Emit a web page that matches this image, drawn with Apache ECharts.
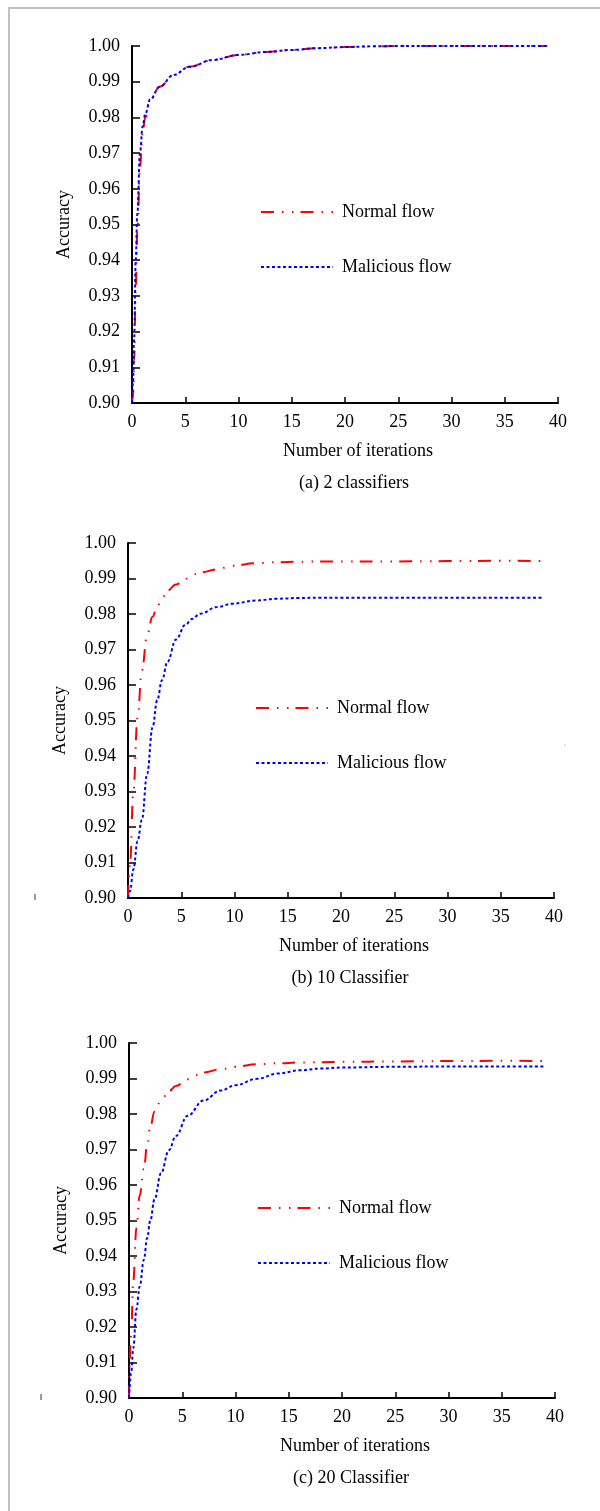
<!DOCTYPE html>
<html>
<head>
<meta charset="utf-8">
<script src="https://cdn.jsdelivr.net/npm/echarts@6.0.0/dist/echarts.min.js"></script>
<style>
  html, body { margin: 0; padding: 0; background: #fff; }
  #main { width: 600px; height: 1511px; }
</style>
</head>
<body>
<div id="main"></div>
<script>
// (a) 2 classifiers
const itersA = [0, 0.1, 0.2, 0.35, 0.5, 0.75, 1, 1.25, 1.7, 2.6, 3.9, 5.4, 7.6, 10, 12.5, 15, 17.5, 20, 22.5, 25, 28, 31, 34, 37, 39];
const normalA = [0.900, 0.902, 0.912, 0.932, 0.948, 0.966, 0.976, 0.980, 0.9848, 0.9886, 0.9919, 0.9942, 0.9961, 0.9975, 0.9983, 0.9989, 0.9994, 0.9997, 0.9999, 1.0, 1.0, 1.0, 1.0, 1.0, 1.0];
const maliciousA = [0.900, 0.906, 0.918, 0.940, 0.953, 0.970, 0.9775, 0.981, 0.985, 0.9886, 0.9919, 0.9942, 0.9961, 0.9975, 0.9983, 0.9989, 0.9994, 0.9997, 0.9999, 1.0, 1.0, 1.0, 1.0, 1.0, 1.0];

// (b) 10 Classifier
const itersB = [0, 0.2, 0.5, 0.9, 1.3, 1.8, 2.3, 2.75, 3.2, 3.7, 4.5, 5.4, 6, 6.8, 8.4, 9.8, 12, 14, 16, 18, 20, 25, 30, 35, 39];
const normalB = [0.900, 0.910, 0.930, 0.951, 0.964, 0.9742, 0.9792, 0.9822, 0.9844, 0.9866, 0.9883, 0.9899, 0.9910, 0.9917, 0.9926, 0.9936, 0.9943, 0.9946, 0.9947, 0.9948, 0.9948, 0.9948, 0.9949, 0.995, 0.9949];
const maliciousB = [0.900, 0.902, 0.908, 0.916, 0.922, 0.935, 0.948, 0.9558, 0.9614, 0.9665, 0.9728, 0.9770, 0.9786, 0.9801, 0.9820, 0.9829, 0.9838, 0.9843, 0.9845, 0.9846, 0.9846, 0.9846, 0.9846, 0.9846, 0.9846];

// (c) 20 Classifier
const itersC = [0, 0.2, 0.4, 0.7, 1.0, 1.4, 1.7, 2.0, 2.4, 3.0, 3.75, 4.4, 5.5, 7, 8.6, 10, 12, 14, 16, 18, 20, 25, 30, 35, 39];
const normalC = [0.900, 0.918, 0.933, 0.948, 0.957, 0.9645, 0.9712, 0.9765, 0.9807, 0.9838, 0.9864, 0.9879, 0.9898, 0.9917, 0.9926, 0.9933, 0.994, 0.9943, 0.9945, 0.9946, 0.9947, 0.9948, 0.9949, 0.995, 0.9949];
const maliciousC = [0.900, 0.907, 0.914, 0.925, 0.9314, 0.939, 0.945, 0.950, 0.956, 0.9633, 0.9698, 0.9738, 0.9795, 0.9838, 0.9866, 0.9881, 0.9899, 0.9914, 0.9923, 0.9928, 0.9931, 0.9933, 0.9934, 0.9934, 0.9934];

const captions = ['(a) 2 classifiers', '(b) 10 Classifier', '(c) 20 Classifier'];
const xTitle = 'Number of iterations';
const yTitle = 'Accuracy';

const panels = [
  { iters: itersA, normal: normalA, malicious: maliciousA },
  { iters: itersB, normal: normalB, malicious: maliciousB },
  { iters: itersC, normal: normalC, malicious: maliciousC }
];

const font = 'Liberation Serif';
const fs = 18;
const grids = [
  { left: 132, top: 46, width: 426, height: 357 },
  { left: 128, top: 543, width: 426, height: 355 },
  { left: 129, top: 1043, width: 426, height: 355 }
];
const legendPos = [
  { left: 260, top: 203 },
  { left: 255, top: 699 },
  { left: 257, top: 1199 }
];

function zip(xs, ys) {
  return xs.map((x, i) => [x, ys[i]]);
}

const chart = echarts.init(document.getElementById('main'), null, { renderer: 'canvas' });

const xAxes = [], yAxes = [], series = [], legends = [], graphics = [];

grids.forEach((g, i) => {
  xAxes.push({
    gridIndex: i, type: 'value', min: 0, max: 40, interval: 5,
    axisLine: { onZero: false, lineStyle: { color: '#000', width: 2 } },
    axisTick: { inside: true, length: 6, lineStyle: { color: '#000', width: 1.5 } },
    axisLabel: { margin: 10, color: '#000', fontFamily: font, fontSize: fs },
    splitLine: { show: false },
    name: xTitle, nameLocation: 'middle', nameGap: 39,
    nameTextStyle: { color: '#000', fontFamily: font, fontSize: fs, padding: [0, 0, 0, 26] }
  });
  yAxes.push({
    gridIndex: i, type: 'value', min: 0.9, max: 1.0, interval: 0.01,
    axisLine: { lineStyle: { color: '#000', width: 2 } },
    axisTick: { inside: true, length: 8, lineStyle: { color: '#000', width: 1.5 } },
    axisLabel: { margin: 12, color: '#000', fontFamily: font, fontSize: fs, formatter: v => v.toFixed(2) },
    splitLine: { show: false },
    name: yTitle, nameLocation: 'middle', nameGap: 59,
    nameTextStyle: { color: '#000', fontFamily: font, fontSize: fs }
  });
  const p = panels[i];
  series.push({
    type: 'line', name: 'Normal flow', xAxisIndex: i, yAxisIndex: i,
    data: zip(p.iters, p.normal), symbol: 'none', smooth: 0.4, smoothMonotone: 'x', z: 2,
    lineStyle: { color: '#ff0000', width: 2, type: [13, 8, 1.5, 8.5, 1.5, 7] },
    itemStyle: { color: '#ff0000' }
  });
  series.push({
    type: 'line', name: 'Malicious flow', xAxisIndex: i, yAxisIndex: i,
    data: zip(p.iters, p.malicious), symbol: 'none', smooth: 0.4, smoothMonotone: 'x', z: 3,
    lineStyle: { color: '#0000ff', width: 2, type: [3, 2.5] },
    itemStyle: { color: '#0000ff' }
  });
  legends.push({
    orient: 'vertical', left: legendPos[i].left, top: legendPos[i].top, padding: 0,
    itemWidth: 72, itemHeight: 18, itemGap: 37, selectedMode: false,
    itemStyle: { opacity: 0 },
    data: ['Normal flow', 'Malicious flow'],
    textStyle: { color: '#000', fontFamily: font, fontSize: fs, padding: [0, 0, 0, 4] }
  });
  graphics.push({
    type: 'text', x: g.left + 222, y: g.top + g.height + 80,
    style: { text: captions[i], align: 'center', verticalAlign: 'middle', font: fs + 'px "Liberation Serif"', fill: '#000' }
  });
});

// page frame and small stray marks
graphics.push({
  type: 'polyline', shape: { points: [[9, 1511], [9, 8], [600, 8]] },
  style: { stroke: '#c0c0c0', lineWidth: 2, fill: null }
});
graphics.push({ type: 'line', shape: { x1: 35, y1: 894, x2: 35, y2: 900 }, style: { stroke: '#333', lineWidth: 1 } });
graphics.push({ type: 'line', shape: { x1: 41, y1: 1394, x2: 41, y2: 1400 }, style: { stroke: '#333', lineWidth: 1 } });
graphics.push({ type: 'rect', shape: { x: 564.5, y: 744.5, width: 1, height: 1 }, style: { fill: '#888' } });

chart.setOption({
  animation: false,
  backgroundColor: '#fff',
  grid: grids,
  xAxis: xAxes,
  yAxis: yAxes,
  legend: legends,
  series: series,
  graphic: graphics
});
</script>
</body>
</html>
